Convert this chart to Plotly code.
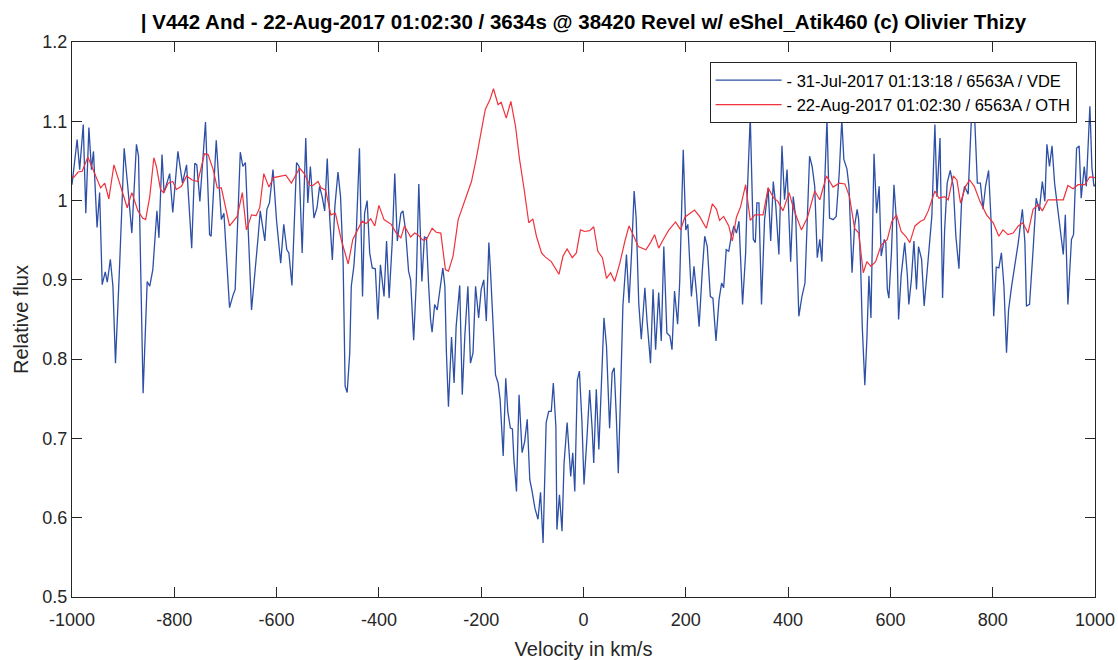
import plotly.graph_objects as go

# Blue series: 31-Jul-2017 (VDE)
vel_blue = [-1000, -990, -985, -978, -973, -967, -962, -958, -951, -946, -941, -935, -931, -925, -920, -915, -907, -898,
            -891, -883, -874, -870, -861, -853, -848, -842, -834, -830, -824, -820, -809, -803, -793, -784, -776, -766,
            -760, -756, -750, -739, -731, -728, -718, -708, -703, -692, -685, -681, -671, -666, -661, -649, -636, -632,
            -623, -619, -614, -607, -600, -592, -586, -580, -576, -570, -561, -556, -550, -543, -539, -534, -527, -521,
            -516, -511, -506, -501,
            -496, -491, -486, -480, -475, -470, -466, -462, -457, -454, -449, -444, -438, -432, -428, -423, -418, -413,
            -407, -402, -397, -390, -385, -380, -374, -369, -364, -357, -353, -348, -342, -338, -332, -327, -322, -316,
            -311, -307, -303, -299, -296, -291, -286, -281, -275, -271, -268, -264, -258, -253, -249, -242, -237, -232,
            -226, -221, -216, -211, -205, -200, -195, -190, -185, -182, -172, -167, -163, -157, -152, -148, -143, -139,
            -136, -131, -126, -120, -115, -110, -105, -101, -95, -89, -84, -79, -73, -68, -63, -59, -54, -52, -47, -42,
            -38, -32, -25, -21, -17, -12, -8, -3, 1,
            7, 12, 17, 20, 25, 30, 35, 40, 45, 51, 56, 60, 64, 68, 72, 77, 84, 89, 94, 99, 103, 108, 113, 120, 124, 131,
            136, 141, 147, 152, 157, 163, 169, 173, 178, 184, 188, 195, 200, 204, 211, 216, 221, 226, 232, 237, 242, 248,
            253, 259, 265, 270, 274, 279, 284, 289, 294, 299, 304, 311, 317, 320, 326, 332, 336, 339, 343, 348, 354, 361,
            366, 371, 376, 382, 388, 393, 398, 405, 410, 415, 421, 427, 433, 438, 442, 447, 452, 457, 462, 466, 472, 476,
            481, 488, 494, 500,
            505, 509, 515, 519, 525, 530, 535, 538, 542, 545, 550, 554, 558, 562, 565, 568, 573, 578, 582, 588, 591, 594,
            597, 602, 607, 612, 616, 621, 628, 633, 636, 641, 646, 651, 655, 661, 666, 672, 677, 681, 687, 691, 697, 702,
            706, 711, 717, 723, 728, 734, 739, 745, 752, 758, 764, 770, 776, 781, 786, 792, 797, 802, 807, 812, 817, 822,
            827, 831, 837, 843, 850, 858, 863, 866, 872, 879, 885, 891, 897, 902, 906, 911, 916, 921, 926, 933, 938, 942,
            947, 954, 958, 964, 969, 973, 979, 983, 990, 994, 998, 1000]
flux_blue = [1.020, 1.077, 1.039, 1.096, 0.984, 1.092, 1.039, 1.062, 0.966, 1.010, 0.894, 0.910, 0.897, 0.926, 0.892, 0.795,
             0.917, 1.066, 1.018, 0.959, 1.071, 1.056, 0.757, 0.898, 0.892, 0.913, 0.987, 0.953, 1.058, 1.010, 1.034, 0.985,
             1.062, 1.022, 1.045, 0.940, 1.047, 1.045, 0.999, 1.099, 0.957, 0.955, 1.076, 0.976, 0.984, 0.865, 0.881, 0.888,
             1.061, 1.043, 1.048, 0.862, 0.955, 0.987, 0.949, 0.989, 0.997, 1.039, 0.974, 0.921, 0.970, 0.938, 0.934, 0.893,
             1.048, 1.043, 0.934, 1.079, 0.997, 1.043, 0.978, 0.991, 1.018, 1.005, 0.987, 1.053,
             0.976, 0.925, 0.993, 1.036, 1.005, 0.925, 0.766, 0.758, 0.808, 0.892, 0.917, 0.963, 1.066, 0.879, 0.984, 1.000,
             0.934, 0.915, 0.914, 0.850, 0.919, 0.879, 0.949, 0.877, 0.947, 1.034, 0.949, 0.984, 0.987, 0.963, 0.911, 0.900,
             0.824, 0.896, 1.021, 0.898, 0.954, 0.953, 0.896, 0.850, 0.834, 0.869, 0.862, 0.888, 0.915, 0.892, 0.808, 0.740,
             0.828, 0.770, 0.841, 0.893, 0.755, 0.829, 0.892, 0.795, 0.808, 0.892, 0.852, 0.888, 0.900, 0.848, 0.947, 0.913,
             0.780, 0.770, 0.749, 0.678, 0.776, 0.734, 0.713, 0.712, 0.673, 0.633, 0.755, 0.682, 0.696, 0.724, 0.648, 0.635,
             0.612, 0.598, 0.632, 0.568, 0.720, 0.734, 0.734, 0.770, 0.715, 0.585, 0.629, 0.583, 0.669, 0.720, 0.652, 0.682,
             0.633, 0.774, 0.785, 0.720, 0.642,
             0.703, 0.761, 0.711, 0.669, 0.762, 0.686, 0.768, 0.852, 0.816, 0.713, 0.783, 0.789, 0.730, 0.656, 0.745, 0.867,
             0.932, 0.871, 0.934, 1.012, 0.978, 0.871, 0.825, 0.890, 0.850, 0.795, 0.888, 0.812, 0.884, 0.823, 0.942, 0.833,
             0.829, 0.812, 0.886, 0.844, 0.896, 1.064, 0.963, 0.970, 0.879, 0.917, 0.883, 0.841, 0.909, 0.955, 0.942, 0.879,
             0.877, 0.823, 0.875, 0.896, 0.890, 0.938, 0.936, 0.955, 0.968, 0.959, 0.974, 0.869, 0.934, 1.005, 1.106, 0.951,
             0.947, 0.997, 0.997, 0.869, 0.976, 1.016, 0.949, 1.024, 0.993, 0.932, 1.069, 1.001, 1.039, 0.923, 1.005, 0.978,
             0.854, 0.879, 0.896, 0.989, 1.056, 1.043, 1.018, 0.928, 0.951, 0.923, 1.018, 1.102, 0.978, 0.976, 0.980, 1.035,
             1.102, 1.052, 1.040, 1.018, 0.909, 0.968, 0.989, 0.976, 0.913, 0.841, 0.767, 0.825, 0.905, 0.852, 0.959, 1.059,
             0.984, 1.018, 0.930, 0.951, 0.947, 0.888, 0.877, 0.934, 1.020, 0.972, 0.850, 0.905, 0.947, 0.907, 0.869, 0.900,
             0.949, 0.888, 0.942, 0.926, 0.867, 0.909, 0.951, 0.980, 1.096, 1.005, 1.079, 0.877, 0.963, 1.022, 1.038, 1.018,
             0.955, 0.914, 0.997, 1.018, 1.008, 1.098, 1.116, 1.022, 1.022, 0.989, 1.018, 1.038, 0.972, 0.854, 0.916, 0.915,
             0.934, 0.892, 0.808, 0.862, 0.892, 0.917, 0.947, 0.989, 0.947, 0.867, 0.869, 0.938, 1.003, 0.987, 1.024, 0.999,
             1.071, 1.043, 1.069, 1.022, 0.997, 0.963, 0.932, 0.982, 0.869, 0.951, 0.957, 1.066, 1.069, 1.003, 1.043, 1.018,
             1.119, 1.041, 1.018, 1.020]

# Red series: 22-Aug-2017 (OTH)
vel_red = [-1000, -997, -988, -980, -969, -956, -944, -936, -928, -918, -907, -892, -883, -871, -862, -856, -848, -840,
           -835, -827, -821, -812, -803, -796, -786, -776, -765, -754, -741, -734, -724, -716, -708, -702, -692, -677,
           -667, -659, -649, -640, -633, -625, -615, -606, -582, -571, -555, -546, -535, -529, -519, -513, -504,
           -494, -485, -473, -460, -451, -441, -433, -425, -416, -408, -400, -390, -376, -366, -357, -350, -338, -330,
           -324, -314, -307, -296, -288, -279, -270, -264, -255, -245, -236, -219, -210, -200, -192, -183, -176, -167,
           -161, -151, -142, -133, -125, -116, -107, -99, -92, -82, -75, -63, -48, -40, -32, -22, -14, -6, 2,
           12, 20, 28, 37, 45, 53, 61, 71, 81, 89, 97, 107, 122, 131, 139, 147, 156, 167, 180, 190, 198, 208, 217, 227,
           240, 252, 260, 266, 274, 284, 291, 299, 307, 317, 326, 335, 351, 361, 372, 380, 390, 402, 411, 426, 438, 452,
           462, 475, 488, 500,
           511, 520, 530, 538, 547, 554, 562, 571, 582, 594, 603, 612, 621, 630, 638, 648, 659, 666, 674, 687, 695, 706,
           713, 723, 730, 737, 747, 755, 764, 775, 788, 801, 812, 820, 830, 840, 850, 859, 869, 879, 889, 897, 908, 921,
           938, 947, 957, 967, 980, 990, 998, 1000]
flux_red = [1.031, 1.029, 1.036, 1.037, 1.055, 1.034, 1.016, 1.022, 1.002, 1.045, 1.022, 0.991, 1.010, 0.987, 0.978, 0.976,
            1.005, 1.054, 1.043, 1.014, 1.010, 1.022, 1.024, 1.014, 1.018, 1.031, 1.026, 1.024, 1.059, 1.058, 1.039, 1.016,
            1.016, 0.997, 0.968, 0.980, 1.010, 0.963, 0.982, 0.981, 0.991, 1.034, 1.017, 1.029, 1.032, 1.022, 1.041, 1.034,
            1.019, 1.019, 1.024, 1.016, 1.013,
            0.982, 0.984, 0.949, 0.920, 0.951, 0.963, 0.974, 0.971, 0.977, 0.968, 0.994, 0.976, 0.970, 0.959, 0.953, 0.968,
            0.954, 0.959, 0.957, 0.950, 0.951, 0.965, 0.960, 0.959, 0.913, 0.911, 0.930, 0.976, 0.993, 1.024, 1.052, 1.085,
            1.115, 1.127, 1.141, 1.121, 1.124, 1.104, 1.125, 1.094, 1.052, 1.014, 0.972, 0.977, 0.955, 0.934, 0.929, 0.923,
            0.907, 0.930, 0.939, 0.928, 0.934, 0.963, 0.961,
            0.962, 0.967, 0.936, 0.928, 0.902, 0.909, 0.898, 0.921, 0.949, 0.968, 0.957, 0.942, 0.938, 0.947, 0.957, 0.940,
            0.951, 0.963, 0.973, 0.963, 0.979, 0.984, 0.988, 0.980, 0.965, 0.996, 0.989, 0.975, 0.980, 0.968, 0.949, 0.979,
            0.992, 1.020, 0.975, 0.982, 0.982, 1.016, 1.003, 0.999, 0.987, 1.010, 0.989, 0.963, 0.979, 1.012, 1.001, 1.031,
            1.017, 1.022,
            1.021, 1.005, 0.965, 0.959, 0.909, 0.923, 0.917, 0.923, 0.944, 0.951, 0.974, 0.982, 0.961, 0.955, 0.947, 0.968,
            0.974, 0.976, 0.987, 1.012, 1.003, 1.005, 1.001, 1.031, 1.026, 0.997, 1.018, 1.026, 1.018, 0.999, 0.982, 0.972,
            0.955, 0.963, 0.957, 0.959, 0.968, 0.972, 0.959, 0.989, 0.995, 0.987, 1.001, 1.001, 1.001, 1.019, 1.015, 1.020,
            1.020, 1.030, 1.029, 1.029]

name_blue = "- 31-Jul-2017 01:13:18 / 6563A / VDE"
name_red = "- 22-Aug-2017 01:02:30 / 6563A / OTH"
title_text = "| V442 And - 22-Aug-2017 01:02:30 / 3634s @ 38420 Revel w/ eShel_Atik460 (c) Olivier Thizy"

x_ticks = [-1000, -800, -600, -400, -200, 0, 200, 400, 600, 800, 1000]
y_ticks = [0.5, 0.6, 0.7, 0.8, 0.9, 1.0, 1.1, 1.2]
y_ticktext = ["0.5", "0.6", "0.7", "0.8", "0.9", "1", "1.1", "1.2"]

fig = go.Figure()
fig.add_trace(go.Scatter(x=vel_blue, y=flux_blue, mode="lines", name=name_blue,
                         line=dict(color="#2d4fa6", width=1.3)))
fig.add_trace(go.Scatter(x=vel_red, y=flux_red, mode="lines", name=name_red,
                         line=dict(color="#f0323c", width=1.2)))

axis_common = dict(showline=True, linecolor="#262626", linewidth=1, mirror="ticks",
                   ticks="inside", ticklen=10, tickcolor="#262626", showgrid=False, zeroline=False,
                   automargin=False,
                   tickfont=dict(family="Liberation Sans, Arial, sans-serif", size=18, color="#262626"))

fig.update_layout(
    width=1118, height=660,
    paper_bgcolor="white", plot_bgcolor="white",
    margin=dict(l=72, r=23, t=42, b=63),
    title=dict(text=title_text, x=0.5, xref="paper", y=1 - 22 / 660, yref="container",
               xanchor="center", yanchor="middle",
               font=dict(family="Liberation Sans Narrow, Arial Narrow, Liberation Sans, sans-serif",
                         size=20.5, color="black", weight="bold")),
    xaxis=dict(range=[-1000, 1000], tickvals=x_ticks, ticktext=[str(v) for v in x_ticks],
               ticklabelstandoff=6,
               title=dict(text="Velocity in km/s", standoff=16,
                          font=dict(family="Liberation Sans, Arial, sans-serif", size=20, color="#262626")),
               **axis_common),
    yaxis=dict(range=[0.5, 1.2], tickvals=y_ticks, ticktext=y_ticktext,
               title=dict(text="Relative flux", standoff=8,
                          font=dict(family="Liberation Sans, Arial, sans-serif", size=20, color="#262626")),
               **axis_common),
    legend=dict(x=0.982, y=0.964, xanchor="right", yanchor="top",
                bgcolor="white", bordercolor="#262626", borderwidth=1,
                itemwidth=66,
                font=dict(family="Liberation Sans, Arial, sans-serif", size=16.5, color="black")),
    showlegend=True,
)

fig.write_html("out.html")
